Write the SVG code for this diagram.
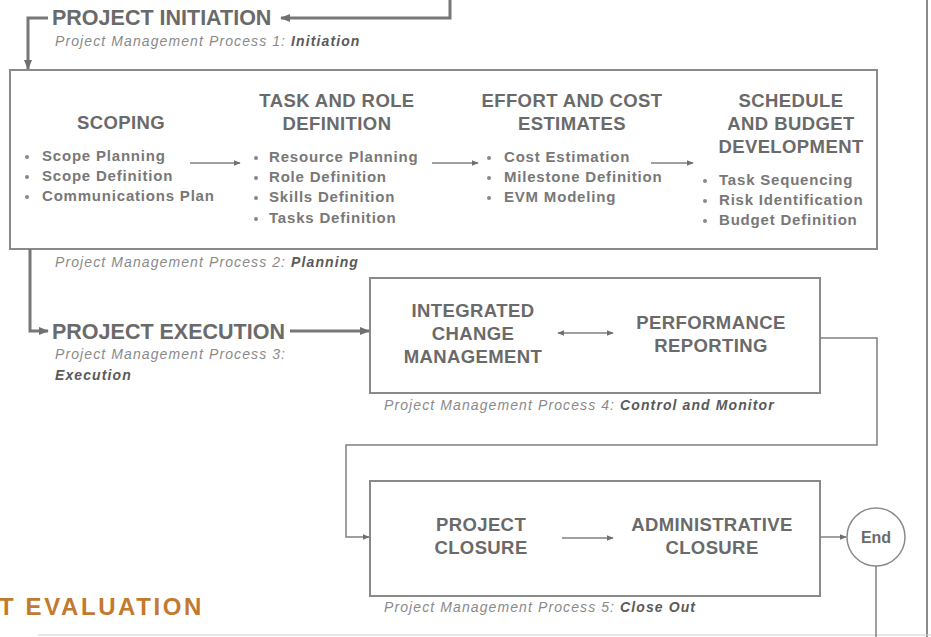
<svg xmlns="http://www.w3.org/2000/svg" width="931" height="637" viewBox="0 0 931 637">
<defs>
<marker id="ah" viewBox="0 0 10 10" refX="9" refY="5" markerWidth="10" markerHeight="10" markerUnits="userSpaceOnUse" orient="auto-start-reverse">
<path d="M0,1 L10,5 L0,9 Z" fill="#707070"/>
</marker>
<marker id="ahs" viewBox="0 0 10 10" refX="9" refY="5" markerWidth="7" markerHeight="7" markerUnits="userSpaceOnUse" orient="auto-start-reverse">
<path d="M0,1 L10,5 L0,9 Z" fill="#707070"/>
</marker>
<style>
.t{font-family:"Liberation Sans",Arial,sans-serif;fill:#6a6a6a;font-weight:bold}
.big{font-size:21.5px}
.hd{font-size:18.5px;letter-spacing:0.4px;text-anchor:middle}
.bl{font-size:15px;letter-spacing:0.8px;fill:#787878}
.it{font-family:"Liberation Sans",Arial,sans-serif;font-size:14px;letter-spacing:1.1px;font-style:italic;fill:#8a8a8a}
.it tspan.b{font-weight:bold;fill:#5a5a5a}
.box{fill:none;stroke:#8a8a8a;stroke-width:2}
.ln{fill:none;stroke:#777;stroke-width:3}
.ln2{fill:none;stroke:#808080;stroke-width:1.5}
.dot{fill:#888}
</style>
</defs>
<rect width="931" height="637" fill="#fff"/>
<line x1="927" y1="0" x2="927" y2="637" stroke="#8a8a8a" stroke-width="2"/>
<line x1="38" y1="635" x2="931" y2="635" stroke="#cfcfcf" stroke-width="1"/>

<g id="initiation">
<text class="t big" x="52" y="25">PROJECT INITIATION</text>
<text class="it" x="55" y="46">Project Management Process 1: <tspan class="b">Initiation</tspan></text>
</g>

<g id="planning">
<rect class="box" x="10" y="70" width="867" height="179"/>
<text class="it" x="55" y="267">Project Management Process 2: <tspan class="b">Planning</tspan></text>
</g>

<g id="scoping">
<text class="t hd" x="121" y="129">SCOPING</text>
<circle class="dot" cx="27" cy="157" r="2"/><text class="t bl" x="42" y="161">Scope Planning</text>
<circle class="dot" cx="27" cy="177" r="2"/><text class="t bl" x="42" y="181">Scope Definition</text>
<circle class="dot" cx="27" cy="197" r="2"/><text class="t bl" x="42" y="201">Communications Plan</text>
</g>

<g id="task-role">
<text class="t hd" x="337" y="107">TASK AND ROLE</text>
<text class="t hd" x="337" y="130">DEFINITION</text>
<circle class="dot" cx="256" cy="158" r="2"/><text class="t bl" x="269" y="162">Resource Planning</text>
<circle class="dot" cx="256" cy="178" r="2"/><text class="t bl" x="269" y="182">Role Definition</text>
<circle class="dot" cx="256" cy="198" r="2"/><text class="t bl" x="269" y="202">Skills Definition</text>
<circle class="dot" cx="256" cy="219" r="2"/><text class="t bl" x="269" y="223">Tasks Definition</text>
</g>

<g id="effort-cost">
<text class="t hd" x="572" y="107">EFFORT AND COST</text>
<text class="t hd" x="572" y="130">ESTIMATES</text>
<circle class="dot" cx="489" cy="158" r="2"/><text class="t bl" x="504" y="162">Cost Estimation</text>
<circle class="dot" cx="489" cy="178" r="2"/><text class="t bl" x="504" y="182">Milestone Definition</text>
<circle class="dot" cx="489" cy="198" r="2"/><text class="t bl" x="504" y="202">EVM Modeling</text>
</g>

<g id="schedule-budget">
<text class="t hd" x="791" y="107">SCHEDULE</text>
<text class="t hd" x="791" y="130">AND BUDGET</text>
<text class="t hd" x="791" y="153">DEVELOPMENT</text>
<circle class="dot" cx="705" cy="181" r="2"/><text class="t bl" x="719" y="185">Task Sequencing</text>
<circle class="dot" cx="705" cy="201" r="2"/><text class="t bl" x="719" y="205">Risk Identification</text>
<circle class="dot" cx="705" cy="221" r="2"/><text class="t bl" x="719" y="225">Budget Definition</text>
</g>

<g id="execution">
<text class="t big" x="52" y="339">PROJECT EXECUTION</text>
<text class="it" x="55" y="359">Project Management Process 3:</text>
<text class="it" x="55" y="380"><tspan class="b">Execution</tspan></text>
</g>

<g id="control-monitor">
<rect class="box" x="370" y="278" width="450" height="115"/>
<text class="it" x="384" y="410">Project Management Process 4: <tspan class="b">Control and Monitor</tspan></text>
</g>

<g id="integrated-change">
<text class="t hd" x="473" y="317">INTEGRATED</text>
<text class="t hd" x="473" y="340">CHANGE</text>
<text class="t hd" x="473" y="363">MANAGEMENT</text>
</g>

<g id="performance-reporting">
<text class="t hd" x="711" y="329">PERFORMANCE</text>
<text class="t hd" x="711" y="352">REPORTING</text>
</g>

<g id="close-out">
<rect class="box" x="370" y="481" width="450" height="115"/>
<text class="it" x="384" y="612">Project Management Process 5: <tspan class="b">Close Out</tspan></text>
</g>

<g id="project-closure">
<text class="t hd" x="481" y="531">PROJECT</text>
<text class="t hd" x="481" y="554">CLOSURE</text>
</g>

<g id="administrative-closure">
<text class="t hd" x="712" y="531">ADMINISTRATIVE</text>
<text class="t hd" x="712" y="554">CLOSURE</text>
</g>

<g id="end">
<circle cx="876" cy="537" r="29" fill="#fff" stroke="#8a8a8a" stroke-width="1.5"/>
<text class="t" x="876" y="543" font-size="16" text-anchor="middle">End</text>
</g>

<g id="evaluation">
<text x="-1" y="615" font-family="'Liberation Sans',Arial,sans-serif" font-size="24" letter-spacing="2.6" font-weight="bold" fill="#c27a2e">T EVALUATION</text>
</g>

<g id="connectors">
<path class="ln" d="M450,0 V18 H281" marker-end="url(#ah)"/>
<path class="ln" d="M48,18 H28 V69" marker-end="url(#ah)"/>
<path class="ln" d="M30,249 V331 H48" marker-end="url(#ah)"/>
<path class="ln" d="M290,331 H369" marker-end="url(#ah)"/>
<path class="ln2" d="M190,163 H240" marker-end="url(#ahs)"/>
<path class="ln2" d="M432,163 H478" marker-end="url(#ahs)"/>
<path class="ln2" d="M651,163 H693" marker-end="url(#ahs)"/>
<path class="ln2" d="M558,333 H613" marker-start="url(#ahs)" marker-end="url(#ahs)"/>
<path class="ln2" d="M820,338 H877 V445 H346 V537 H369" marker-end="url(#ahs)"/>
<path class="ln2" d="M562,538 H613" marker-end="url(#ahs)"/>
<path class="ln2" d="M820,537 H846" marker-end="url(#ahs)"/>
<path class="ln2" d="M876,566 V637"/>
</g>
</svg>
